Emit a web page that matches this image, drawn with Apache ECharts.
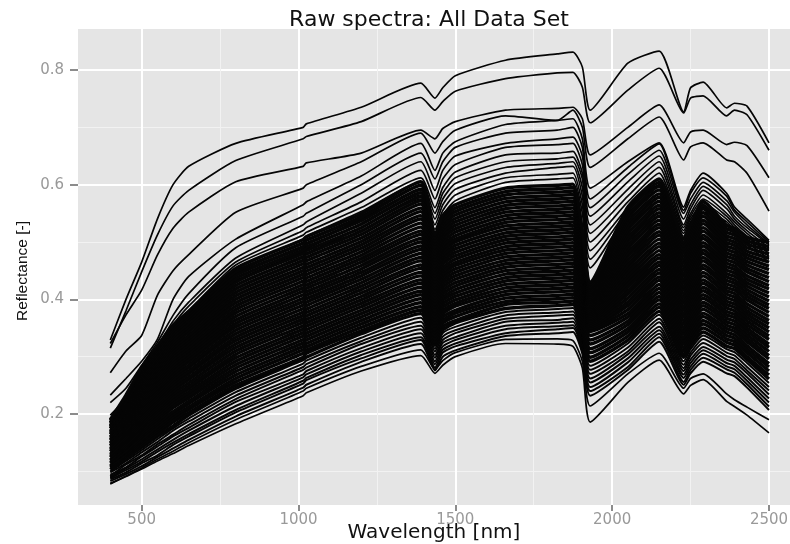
<!DOCTYPE html>
<html>
<head>
<meta charset="utf-8">
<style>html,body{margin:0;padding:0;background:#fff}#chart{width:790px;height:544px}</style>
<script src="https://cdn.jsdelivr.net/npm/echarts@6/dist/echarts.min.js"></script>
</head>
<body>
<div id="chart"></div>
<script>
const wavelengths = [400,450,500,550,600,650,800,1015,1025,1200,1390,1435,1460,1500,1660,1825,1875,1905,1930,2050,2150,2228,2250,2290,2365,2390,2430,2500]
const xTicks = [500,1000,1500,2000,2500]
const xMinor = [750,1250,1750,2250]
const yTicks = [0.2,0.4,0.6,0.8]
const yMinor = [0.1,0.3,0.5,0.7]

// separate lines above the black mass
const upperLines = [
  [.329,.40,.465,.54,.60,.632,.672,.700,.706,.735,.777,.751,.769,.79,.817,.828,.831,.805,.73,.812,.833,.727,.769,.779,.734,.742,.737,.673],
  [.315,.38,.448,.512,.563,.59,.642,.68,.684,.71,.752,.73,.745,.763,.785,.795,.796,.77,.708,.765,.803,.725,.751,.755,.72,.73,.722,.66],
  [.323,.373,.416,.477,.524,.552,.605,.632,.638,.655,.695,.68,.698,.71,.73,.733,.735,.715,.652,.70,.739,.673,.692,.695,.67,.674,.668,.612],
  [.272,.31,.337,.407,.45,.478,.552,.594,.600,.64,.69,.655,.675,.695,.72,.712,.73,.70,.63,.68,.718,.643,.666,.673,.643,.64,.62,.554],
  [.233,.262,.292,.33,.40,.44,.505,.565,.57,.615,.672,.625,.655,.675,.705,.712,.715,.68,.594,.64,.673,.561,.59,.62,.585,.561,.54,.503],
  [.22,.245,.285,.325,.372,.41,.49,.545,.55,.60,.655,.61,.64,.665,.69,.695,.70,.665,.575,.63,.671,.555,.585,.612,.58,.556,.535,.50],
  [.198,.228,.275,.318,.362,.395,.472,.53,.535,.585,.64,.59,.625,.65,.672,.68,.683,.65,.56,.618,.66,.55,.575,.604,.572,.552,.53,.497],
  [.192,.225,.27,.312,.355,.388,.465,.52,.525,.57,.625,.575,.61,.635,.665,.67,.672,.635,.545,.605,.65,.54,.565,.597,.565,.545,.525,.495],
  [.186,.222,.266,.305,.35,.38,.46,.512,.517,.56,.612,.56,.595,.622,.652,.655,.658,.62,.53,.592,.64,.53,.558,.59,.558,.54,.52,.49],
  [.183,.22,.262,.30,.345,.372,.452,.505,.51,.553,.605,.55,.585,.612,.64,.645,.648,.61,.515,.58,.63,.525,.55,.582,.55,.535,.515,.485],
  [.18,.216,.258,.296,.338,.367,.445,.498,.503,.545,.598,.54,.575,.602,.63,.637,.64,.595,.50,.57,.62,.52,.545,.575,.545,.53,.51,.48],
  [.178,.212,.254,.29,.332,.362,.44,.49,.495,.54,.59,.53,.565,.592,.62,.63,.632,.58,.485,.56,.61,.515,.54,.568,.54,.525,.505,.475],
  [.175,.21,.25,.285,.328,.355,.432,.483,.488,.532,.582,.522,.555,.582,.612,.618,.62,.565,.47,.555,.60,.51,.535,.56,.535,.52,.50,.47],
  [.172,.206,.247,.28,.322,.35,.425,.475,.48,.525,.575,.515,.547,.572,.604,.61,.612,.55,.455,.55,.59,.505,.53,.552,.53,.515,.495,.465]
]

// lowest part of the mass, shows gaps between lines
const spacedLines = [
  [.083,.095,.109,.125,.140,.155,.196,.246,.251,.291,.322,.276,.300,.311,.336,.341,.343,.305,.232,.277,.326,.251,.271,.291,.271,.266,.246,.207],
  [.086,.098,.114,.128,.146,.161,.203,.253,.259,.297,.329,.281,.307,.318,.341,.348,.350,.311,.240,.282,.334,.256,.277,.298,.278,.272,.252,.213],
  [.088,.102,.117,.134,.150,.165,.207,.258,.263,.303,.334,.287,.312,.323,.348,.353,.355,.315,.247,.290,.340,.263,.283,.305,.283,.278,.258,.220],
  [.090,.105,.121,.138,.155,.171,.214,.264,.269,.309,.341,.292,.318,.329,.354,.359,.361,.320,.255,.297,.346,.269,.289,.311,.289,.284,.264,.227],
  [.094,.107,.126,.143,.161,.176,.221,.269,.275,.315,.348,.298,.324,.334,.361,.364,.367,.326,.262,.304,.352,.275,.295,.317,.295,.290,.271,.234],
  [.092,.112,.128,.147,.164,.181,.226,.277,.281,.322,.354,.303,.329,.341,.366,.372,.373,.331,.270,.309,.360,.280,.302,.324,.301,.296,.276,.241],
  [.098,.114,.133,.151,.171,.187,.232,.282,.287,.327,.361,.309,.335,.346,.372,.377,.379,.335,.277,.316,.366,.286,.307,.331,.307,.302,.282,.247],
  [.100,.118,.137,.156,.175,.192,.238,.288,.293,.333,.368,.314,.341,.352,.378,.383,.385,.340,.284,.323,.373,.292,.313,.337,.313,.308,.289,.254]
]

// solid black mass
const denseLines = [
  [.103,.122,.142,.161,.179,.198,.245,.295,.299,.340,.375,.320,.346,.359,.384,.389,.391,.345,.292,.329,.379,.299,.319,.343,.318,.314,.295,.261],
  [.106,.123,.145,.165,.186,.202,.250,.299,.306,.345,.381,.325,.352,.363,.391,.395,.397,.350,.299,.336,.386,.304,.325,.350,.325,.320,.300,.268],
  [.108,.127,.149,.170,.190,.208,.256,.306,.311,.351,.387,.331,.358,.370,.396,.401,.403,.355,.307,.343,.392,.310,.331,.357,.331,.326,.307,.275],
  [.110,.130,.153,.174,.195,.212,.262,.312,.317,.357,.394,.336,.363,.376,.402,.407,.409,.360,.314,.349,.399,.316,.337,.363,.337,.332,.313,.282],
  [.114,.134,.156,.178,.200,.218,.268,.318,.323,.363,.401,.342,.369,.381,.408,.413,.415,.365,.322,.356,.405,.322,.343,.370,.343,.338,.319,.288],
  [.115,.136,.161,.183,.204,.222,.274,.324,.329,.369,.408,.347,.375,.388,.414,.419,.421,.370,.329,.362,.412,.327,.349,.376,.349,.344,.326,.296],
  [.118,.141,.165,.187,.211,.228,.280,.330,.335,.375,.414,.353,.380,.393,.420,.425,.427,.375,.337,.369,.419,.333,.355,.383,.355,.350,.332,.302],
  [.120,.143,.169,.192,.215,.233,.286,.336,.341,.381,.421,.358,.386,.399,.426,.431,.433,.380,.344,.375,.426,.339,.361,.389,.361,.356,.338,.309],
  [.124,.146,.173,.196,.220,.238,.292,.342,.347,.387,.428,.364,.392,.405,.432,.437,.439,.385,.347,.382,.433,.345,.367,.395,.367,.362,.344,.316],
  [.125,.150,.177,.201,.225,.244,.298,.348,.353,.393,.434,.369,.398,.411,.438,.443,.445,.390,.350,.389,.439,.351,.373,.402,.373,.368,.350,.322],
  [.128,.153,.180,.206,.230,.248,.304,.354,.359,.399,.441,.375,.403,.417,.444,.449,.451,.395,.353,.395,.446,.357,.379,.408,.379,.374,.356,.330],
  [.130,.156,.185,.210,.235,.254,.310,.360,.365,.405,.447,.380,.409,.423,.450,.455,.457,.400,.356,.402,.452,.363,.385,.415,.385,.380,.362,.336],
  [.134,.159,.189,.215,.240,.260,.316,.366,.371,.411,.454,.386,.415,.429,.456,.461,.463,.405,.359,.409,.459,.369,.391,.421,.391,.386,.368,.343],
  [.135,.163,.193,.219,.245,.264,.322,.372,.377,.417,.460,.391,.421,.435,.462,.467,.469,.410,.362,.415,.465,.375,.397,.428,.397,.392,.374,.350],
  [.138,.166,.197,.224,.250,.270,.328,.378,.383,.423,.467,.397,.426,.441,.468,.473,.475,.415,.365,.422,.472,.381,.403,.434,.403,.398,.380,.357],
  [.140,.169,.201,.228,.255,.275,.334,.384,.389,.429,.473,.402,.432,.447,.474,.479,.481,.420,.368,.429,.478,.387,.409,.441,.409,.404,.386,.363],
  [.144,.172,.205,.233,.260,.281,.340,.390,.395,.435,.480,.408,.438,.453,.480,.485,.487,.425,.371,.435,.485,.393,.415,.447,.415,.410,.392,.370],
  [.145,.176,.209,.237,.265,.285,.346,.396,.401,.441,.487,.413,.443,.459,.486,.491,.493,.430,.374,.441,.492,.398,.421,.454,.421,.416,.399,.377],
  [.148,.179,.213,.242,.270,.291,.352,.402,.407,.447,.493,.419,.449,.464,.492,.497,.499,.435,.377,.448,.498,.404,.427,.460,.427,.422,.405,.384],
  [.150,.182,.217,.246,.275,.296,.358,.408,.413,.453,.500,.424,.455,.470,.498,.503,.505,.440,.380,.455,.505,.410,.433,.467,.433,.428,.411,.390],
  [.154,.185,.221,.251,.280,.301,.364,.414,.419,.459,.506,.430,.461,.476,.504,.509,.511,.445,.383,.461,.512,.416,.439,.473,.439,.434,.417,.397],
  [.155,.188,.225,.255,.285,.306,.370,.420,.425,.465,.513,.435,.466,.482,.510,.515,.517,.450,.386,.468,.518,.422,.445,.480,.445,.440,.423,.404],
  [.158,.191,.229,.260,.290,.311,.376,.426,.431,.471,.519,.441,.472,.488,.516,.521,.523,.455,.389,.475,.525,.428,.451,.486,.451,.446,.429,.411],
  [.160,.194,.233,.264,.295,.316,.382,.432,.437,.477,.526,.446,.477,.494,.522,.527,.529,.460,.392,.481,.531,.434,.457,.493,.457,.452,.435,.418],
  [.164,.197,.237,.269,.300,.322,.388,.438,.443,.483,.533,.452,.483,.500,.528,.533,.535,.465,.395,.488,.538,.440,.463,.499,.463,.458,.441,.424],
  [.165,.201,.241,.273,.305,.327,.394,.444,.449,.489,.540,.457,.489,.505,.534,.539,.541,.470,.398,.494,.545,.445,.469,.506,.469,.464,.448,.431],
  [.168,.204,.245,.278,.310,.332,.400,.450,.455,.495,.546,.463,.494,.511,.540,.545,.547,.475,.401,.501,.551,.451,.475,.512,.475,.470,.454,.438],
  [.170,.207,.249,.282,.315,.337,.406,.456,.461,.501,.553,.468,.500,.517,.546,.551,.553,.480,.404,.507,.558,.457,.481,.519,.481,.476,.460,.445],
  [.174,.210,.253,.287,.320,.343,.412,.462,.467,.507,.559,.474,.506,.523,.552,.557,.559,.485,.407,.514,.564,.463,.487,.525,.487,.482,.466,.452],
  [.175,.214,.257,.291,.325,.348,.418,.468,.473,.513,.566,.479,.511,.529,.558,.563,.565,.490,.410,.521,.571,.469,.493,.532,.493,.488,.472,.458],
  [.178,.217,.261,.296,.330,.353,.424,.474,.479,.519,.572,.485,.517,.535,.564,.569,.571,.495,.413,.527,.578,.475,.499,.538,.499,.494,.478,.465],
  [.180,.220,.265,.300,.335,.358,.430,.480,.485,.525,.579,.490,.523,.541,.570,.575,.577,.500,.416,.534,.584,.481,.505,.545,.505,.500,.484,.472],
  [.184,.223,.269,.305,.340,.364,.436,.486,.491,.531,.586,.496,.528,.547,.576,.581,.583,.505,.419,.541,.591,.487,.511,.551,.511,.506,.490,.479],
  [.185,.227,.273,.309,.345,.369,.442,.492,.497,.537,.592,.501,.534,.553,.582,.587,.589,.510,.422,.547,.597,.493,.517,.558,.517,.512,.496,.486],
  [.188,.230,.277,.314,.350,.374,.448,.498,.503,.543,.599,.507,.540,.559,.588,.593,.595,.515,.426,.554,.604,.499,.523,.564,.523,.518,.502,.492],
  [.190,.233,.281,.318,.355,.379,.454,.504,.509,.549,.605,.512,.546,.565,.594,.599,.601,.520,.430,.561,.610,.505,.529,.571,.529,.524,.508,.499]
]

// thin lines on the lower edge
const lowerLines = [
  [.078,.091,.104,.118,.131,.145,.183,.232,.237,.275,.302,.271,.285,.300,.323,.322,.318,.280,.186,.255,.294,.235,.250,.260,.222,.213,.198,.167],
  [.079,.092,.106,.121,.135,.150,.190,.240,.245,.283,.312,.278,.293,.307,.330,.331,.328,.292,.214,.270,.306,.245,.262,.270,.235,.225,.212,.190]
]

const toPoints = row => wavelengths.map((w, i) => [w, row[i]])
const makeSeries = (rows, width) => rows.map(row => ({
  type: 'line',
  data: toPoints(row),
  showSymbol: false,
  silent: true,
  smooth: 0.2,
  lineStyle: { color: '#050505', width: width },
}))

const chart = echarts.init(document.getElementById('chart'))

chart.setOption({
  animation: false,
  textStyle: { fontFamily: 'DejaVu Sans' },
  title: {
    text: 'Raw spectra: All Data Set',
    left: 424,
    top: 4,
    textAlign: 'center',
    textStyle: { fontFamily: 'DejaVu Sans', fontWeight: 'normal', fontSize: 22, color: '#111' },
  },
  grid: { left: 78, right: 0, top: 29, bottom: 39, outerBoundsMode: 'none', show: true, backgroundColor: '#e5e5e5', borderWidth: 0 },
  xAxis: [
    {
      type: 'value',
      min: 297,
      max: 2567,
      name: 'Wavelength [nm]',
      nameLocation: 'middle',
      nameMoveOverlap: false,
      nameGap: 18,
      nameTextStyle: { fontSize: 20, color: '#111' },
      axisLine: { show: false },
      axisTick: { length: 6, customValues: xTicks, lineStyle: { color: '#8c8c8c', width: 2 } },
      axisLabel: { customValues: xTicks, margin: 8, fontSize: 15, color: '#999', formatter: v => String(v) },
      splitLine: { show: true, lineStyle: { color: '#fff', width: 2 } },
    },
    {
      type: 'value',
      min: 297,
      max: 2567,
      axisLine: { show: false },
      axisTick: { show: false, customValues: xMinor },
      axisLabel: { show: false },
      splitLine: { show: true, lineStyle: { color: '#f2f2f2', width: 1 } },
    },
  ],
  yAxis: [
    {
      type: 'value',
      min: 0.0413,
      max: 0.8715,
      name: 'Reflectance [-]',
      nameLocation: 'middle',
      nameMoveOverlap: false,
      nameGap: 47,
      nameTextStyle: { fontFamily: 'Liberation Sans', fontSize: 15.5, color: '#111', padding: [0, 8, 0, 0] },
      axisLine: { show: false },
      axisTick: { length: 8, customValues: yTicks, lineStyle: { color: '#8c8c8c', width: 2 } },
      axisLabel: { customValues: yTicks, margin: 14, fontSize: 15, color: '#999', formatter: v => v.toFixed(1) },
      splitLine: { show: true, lineStyle: { color: '#fff', width: 2 } },
    },
    {
      type: 'value',
      min: 0.0413,
      max: 0.8715,
      axisLine: { show: false },
      axisTick: { show: false, customValues: yMinor },
      axisLabel: { show: false },
      splitLine: { show: true, lineStyle: { color: '#f2f2f2', width: 1 } },
    },
  ],
  series: [
    ...makeSeries(upperLines, 1.7),
    ...makeSeries(spacedLines, 2),
    ...makeSeries(denseLines, 3.4),
    ...makeSeries(lowerLines, 1.7),
  ],
})
</script>
</body>
</html>
